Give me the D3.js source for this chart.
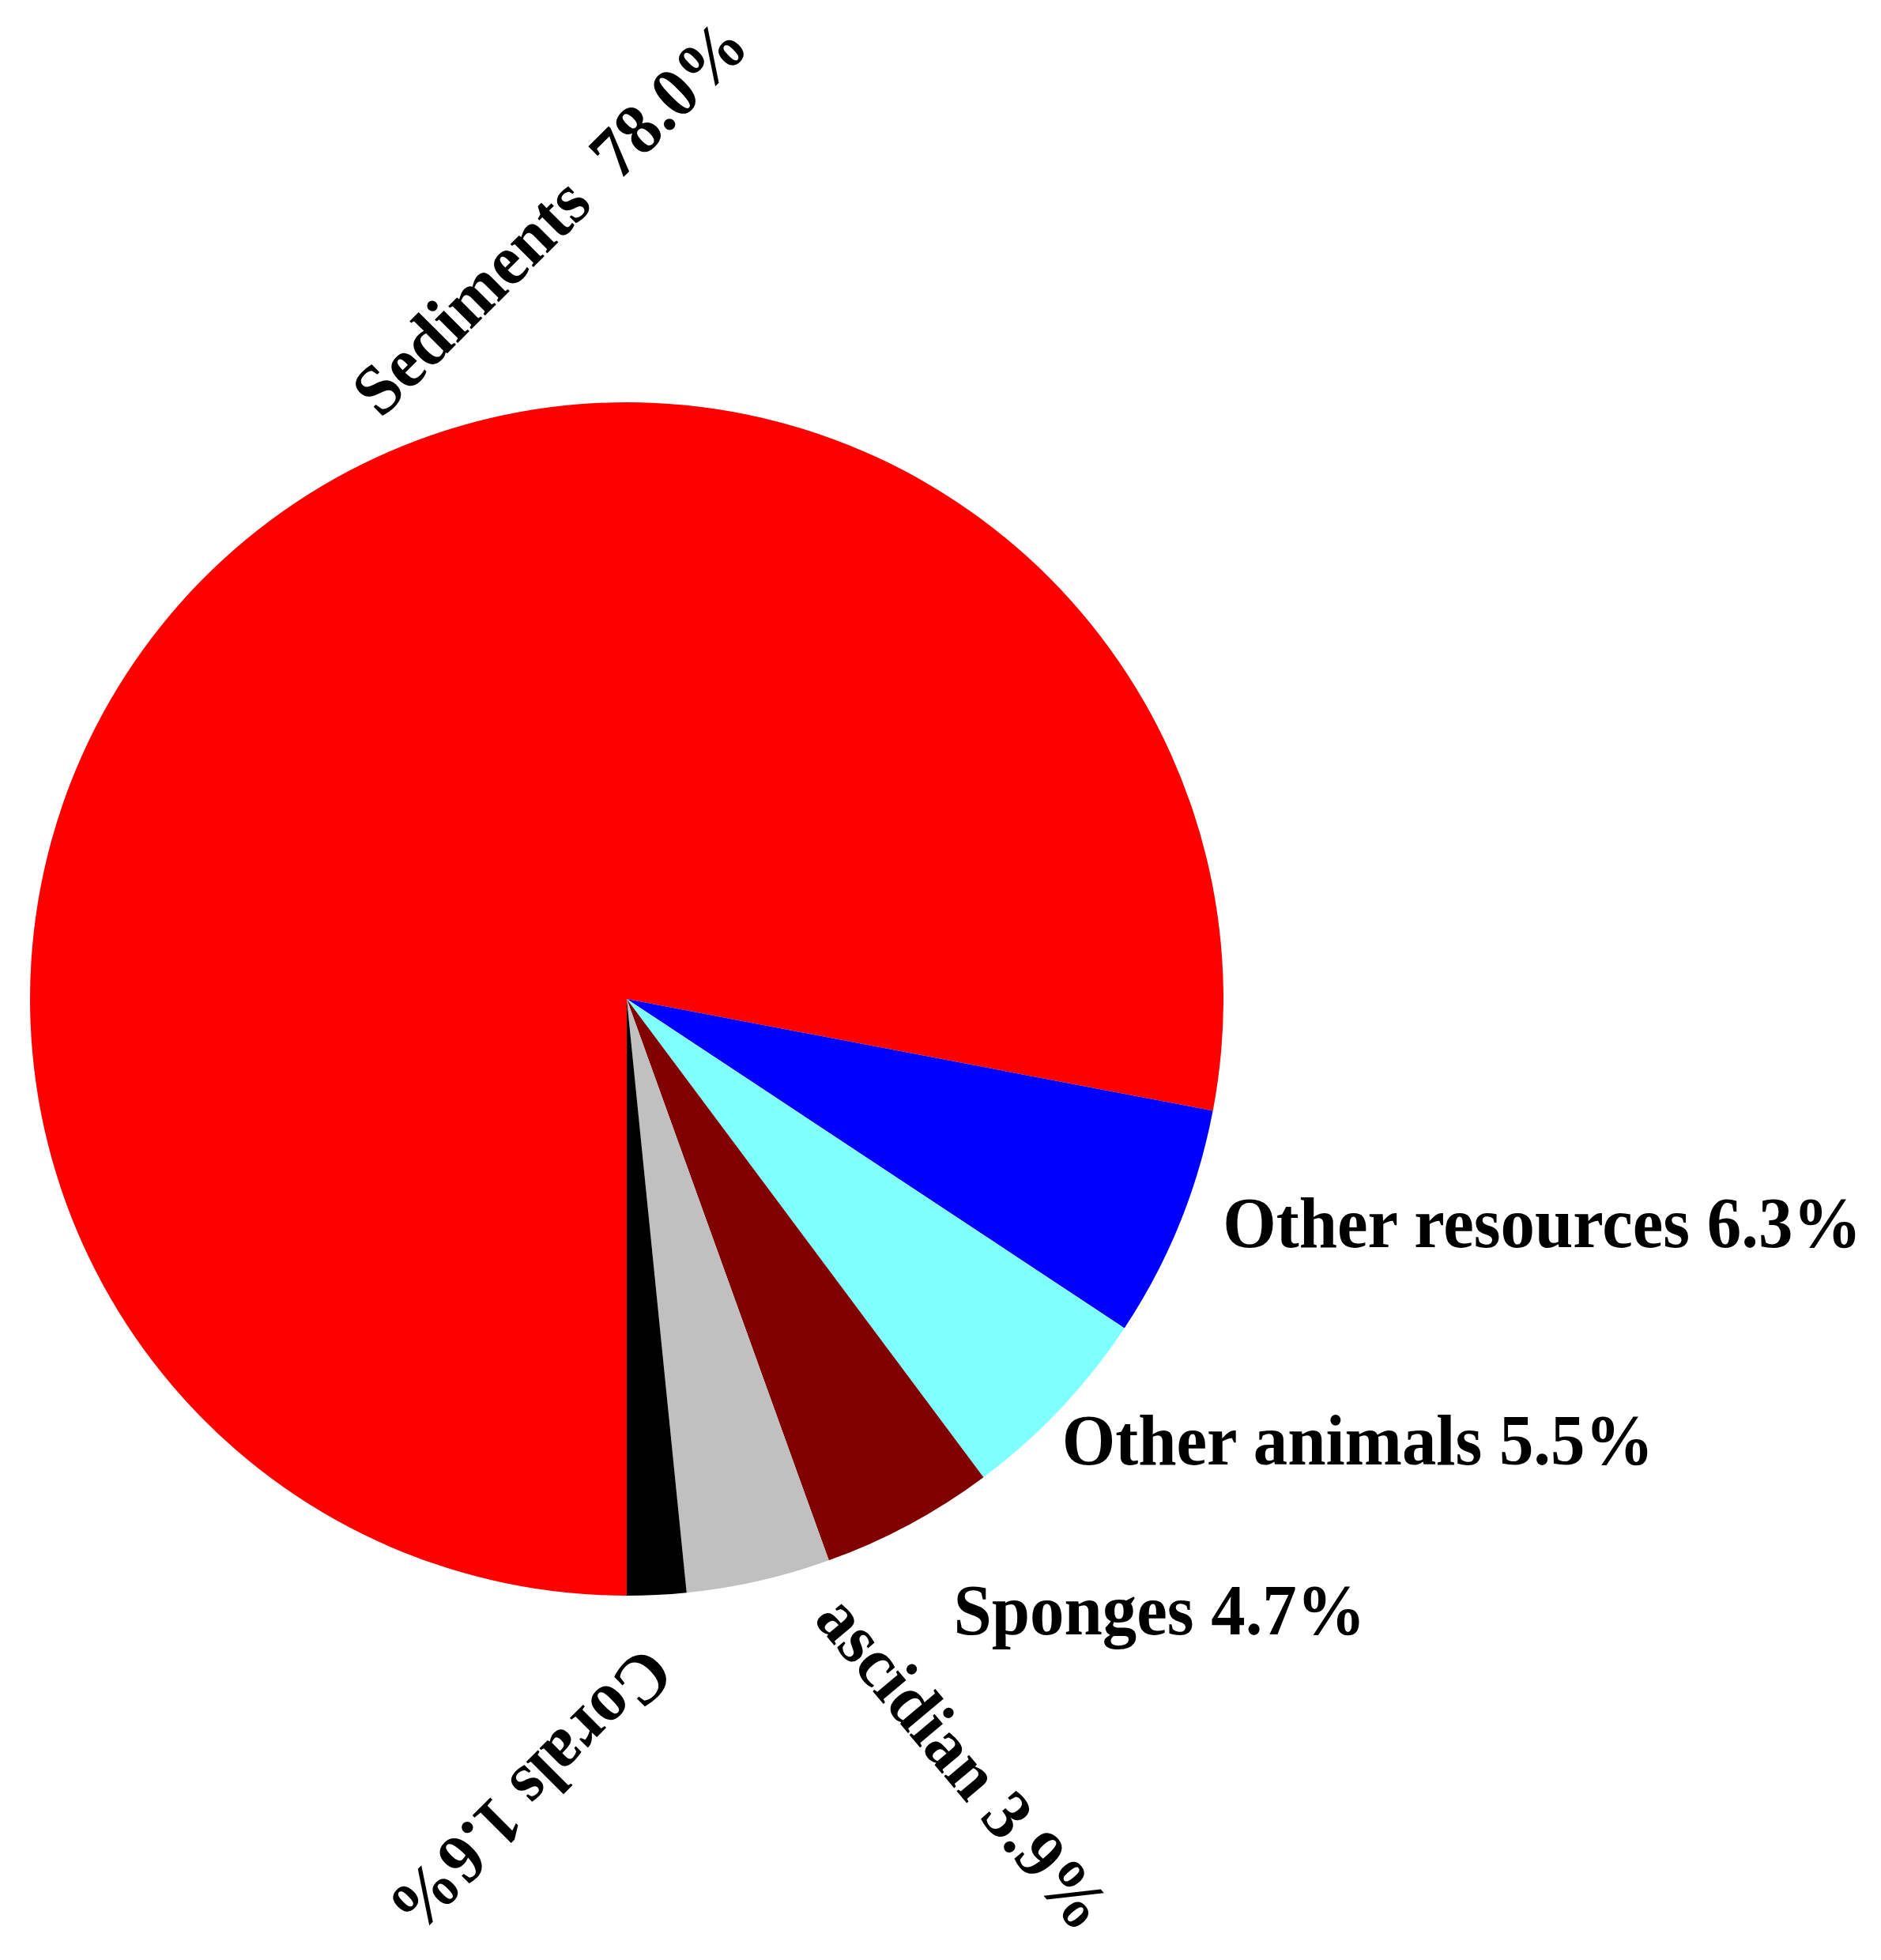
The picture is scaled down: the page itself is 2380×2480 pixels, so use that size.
<!DOCTYPE html>
<html>
<head>
<meta charset="utf-8">
<script src="https://cdn.jsdelivr.net/npm/d3@7"></script>
<style>
  html, body { margin: 0; padding: 0; background: #fff; }
  svg text { font-family: "Liberation Serif", "Times New Roman", serif; font-weight: bold; white-space: pre; }
</style>
</head>
<body>
<svg id="chart" width="2380" height="2480"></svg>
<script>
// data — share of sources (%)
const categories = ['Sediments', 'Other resources', 'Other animals', 'Sponges', 'ascidian', 'Corals'];
const shares     = [78.0, 6.3, 5.5, 4.7, 3.9, 1.6];
const colours    = ['#ff0000', '#0000ff', '#80ffff', '#800000', '#c0c0c0', '#000000'];

// label placement: offset from the slice's outer mid point, rotation in degrees
const labelDx  = [405, 55, 2, 56, 236, -180];
const labelDy  = [-386, 29, 70, 139, 249, 226];
const labelRot = [-45, 0, 0, 0, 50, 135];
const labelAnchor = ['middle', 'start', 'start', 'start', 'middle', 'middle'];
const labelGap = ['  ', ' ', ' ', ' ', ' ', ' '];

const W = 2380, H = 2480;
const cx = 793, cy = 1264, R = 755;

const svg = d3.select('#chart');
svg.append('rect').attr('width', W).attr('height', H).attr('fill', '#fff');

const slices = categories.map((c, i) => ({ name: c, value: shares[i], i }));

const pie = d3.pie().sort(null).value(d => d.value)
  .startAngle(Math.PI).endAngle(3 * Math.PI);
const arc = d3.arc().innerRadius(0).outerRadius(R);
const color = d3.scaleOrdinal().domain(categories).range(colours);

const g = svg.append('g').attr('transform', `translate(${cx},${cy})`);
const arcs = pie(slices);

g.selectAll('path').data(arcs).join('path')
  .attr('d', arc)
  .attr('fill', d => color(d.data.name));

// labels
const fmt = d3.format('.1f');
g.selectAll('text.lbl').data(arcs).join('text')
  .attr('class', 'lbl')
  .attr('font-size', 90)
  .attr('fill', '#000')
  .attr('text-anchor', d => labelAnchor[d.data.i])
  .attr('transform', d => {
    const a = (d.startAngle + d.endAngle) / 2;
    const x = Math.sin(a) * R + labelDx[d.data.i];
    const y = -Math.cos(a) * R + labelDy[d.data.i];
    return `translate(${x},${y}) rotate(${labelRot[d.data.i]}) scale(0.965,1)`;
  })
  .text(d => `${d.data.name}${labelGap[d.data.i]}${fmt(d.data.value)}%`);
</script>
</body>
</html>
